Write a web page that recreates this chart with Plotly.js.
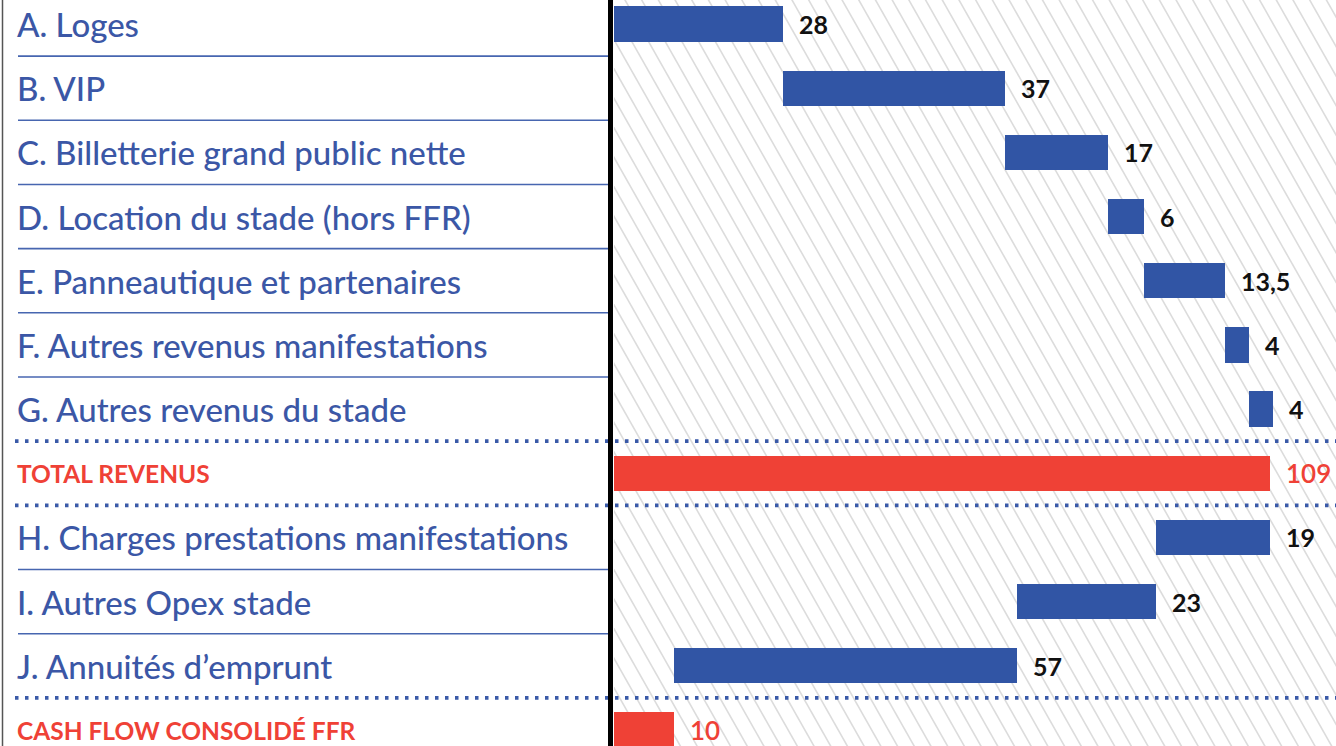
<!DOCTYPE html>
<html>
<head>
<meta charset="utf-8">
<script src="https://cdn.plot.ly/plotly-3.0.1.min.js"></script>
<style>html,body{margin:0;padding:0;background:#fff;overflow:hidden}#chart{width:1336px;height:746px}</style>
</head>
<body>
<div id="chart"></div>
<script>
// ---- data ----
var categories = [
  "A. Loges",
  "B. VIP",
  "C. Billetterie grand public nette",
  "D. Location du stade (hors FFR)",
  "E. Panneautique et partenaires",
  "F. Autres revenus manifestations",
  "G. Autres revenus du stade",
  "TOTAL REVENUS",
  "H. Charges prestations manifestations",
  "I. Autres Opex stade",
  "J. Annuités d\u2019emprunt",
  "CASH FLOW CONSOLIDÉ FFR"
];
var values = [28, 37, 17, 6, 13.5, 4, 4, 109, 19, 23, 57, 10];
var measures = ["increase","increase","increase","increase","increase","increase","increase","total","decrease","decrease","decrease","total"];
var valueLabels = ["28","37","17","6","13,5","4","4","109","19","23","57","10"];

// ---- styling ----
var BLUE = "#3155a5", RED = "#ef4136", TEXTBLUE = "#3b57a6", SEP = "#4766b0";
var W = 1336, H = 746, PLOT_L = 614;
var XMAX = 109 * (W - PLOT_L) / (1270 - PLOT_L);
var ROW0 = 24, PITCH = (730 - 24) / 11;
var YTOP = -ROW0 / PITCH, YBOT = (H - ROW0) / PITCH;

// waterfall geometry from values
var bases = [], lengths = [], colors = [], ends = [];
var running = 0;
for (var i = 0; i < values.length; i++) {
  var v = values[i];
  if (measures[i] === "total") { bases.push(0); lengths.push(v); running = v; colors.push(RED); }
  else if (measures[i] === "increase") { bases.push(running); lengths.push(v); running += v; colors.push(BLUE); }
  else { running -= v; bases.push(running); lengths.push(v); colors.push(BLUE); }
  ends.push(bases[i] + lengths[i]);
}
var idx = categories.map(function(_, i){ return i; });

var trace = {
  type: "bar", orientation: "h",
  y: idx, x: lengths, base: bases,
  width: 0.55,
  marker: { color: colors, line: { width: 0 } },
  hoverinfo: "skip"
};

var shapes = [];
// hatching background (decoration)
var slope = 170 / 300; // dx per dy in px
function px2x(px){ return (px - PLOT_L) / (W - PLOT_L) * XMAX; }
function py2y(py){ return (py - ROW0) / PITCH; }
for (var x0 = PLOT_L - H * slope - 20; x0 < W + 20; x0 += 16.7) {
  shapes.push({ type: "line", xref: "x", yref: "y", layer: "below",
    x0: px2x(x0), y0: py2y(-5), x1: px2x(x0 + (H + 10) * slope), y1: py2y(H + 5),
    line: { color: "#dcdcdc", width: 1.6 } });
}
// separators
for (var r = 0; r < categories.length - 1; r++) {
  var dotted = measures[r] === "total" || measures[r + 1] === "total";
  if (dotted) {
    shapes.push({ type: "line", xref: "paper", yref: "y", x0: 15 / W, x1: 1, y0: r + 0.5, y1: r + 0.5,
      line: { color: "#3a5aa8", width: 3.8, dash: "3.5px,6.5px" } });
  } else {
    shapes.push({ type: "line", xref: "paper", yref: "y", x0: 18 / W, x1: 610 / W, y0: r + 0.5, y1: r + 0.5,
      line: { color: SEP, width: 1.6 } });
  }
}
// left border and black divider
shapes.push({ type: "line", xref: "paper", yref: "paper", x0: 2.5 / W, x1: 2.5 / W, y0: 0, y1: 1, line: { color: "#555", width: 1.5 } });
shapes.push({ type: "line", xref: "paper", yref: "paper", x0: 610.5 / W, x1: 610.5 / W, y0: 0, y1: 1, line: { color: "#000", width: 5 } });

var annotations = [];
for (var k = 0; k < categories.length; k++) {
  var isTot = measures[k] === "total";
  annotations.push({
    xref: "paper", yref: "y", x: 15 / W, y: k, xanchor: "left", yanchor: "middle",
    text: categories[k], showarrow: false,
    font: { family: "Lato, sans-serif", size: isTot ? 24.5 : 33, weight: isTot ? 700 : 500, color: isTot ? RED : TEXTBLUE }
  });
  annotations.push({
    xref: "x", yref: "y", x: ends[k], y: k, xanchor: "left", yanchor: "middle", xshift: 14,
    text: valueLabels[k], showarrow: false,
    font: { family: "Lato, sans-serif", size: isTot ? 26 : 25, weight: isTot ? 600 : 700, color: isTot ? RED : "#111" }
  });
}

var layout = {
  width: W, height: H,
  margin: { l: 0, r: 0, t: 0, b: 0, pad: 0 },
  paper_bgcolor: "#fff", plot_bgcolor: "#fff",
  showlegend: false,
  xaxis: { domain: [PLOT_L / W, 1], range: [0, XMAX], visible: false, showgrid: false, zeroline: false, fixedrange: true },
  yaxis: { range: [YBOT, YTOP], visible: false, showgrid: false, zeroline: false, fixedrange: true },
  bargap: 0,
  shapes: shapes,
  annotations: annotations
};

Plotly.newPlot("chart", [trace], layout, { displayModeBar: false, staticPlot: true });
</script>
</body>
</html>
